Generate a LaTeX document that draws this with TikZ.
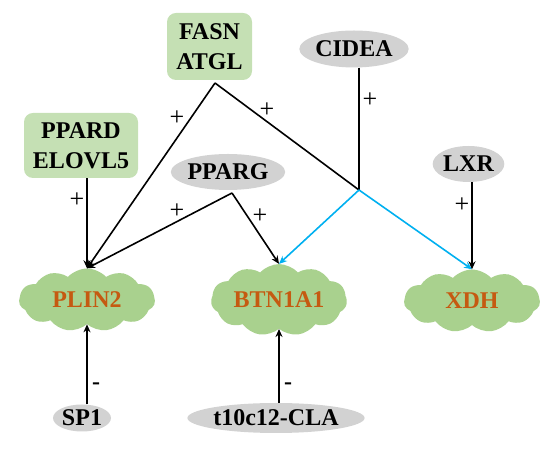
\documentclass[tikz,border=0pt]{standalone}
\usepackage{fontspec}
\setmainfont{Liberation Serif}
\usetikzlibrary{shapes.geometric,shapes.symbols,arrows.meta}

\definecolor{boxgreen}{RGB}{197,224,180}
\definecolor{cloudgreen}{RGB}{169,209,142}
\definecolor{genegrey}{RGB}{210,210,210}
\definecolor{geneorange}{RGB}{197,90,17}
\definecolor{linkblue}{RGB}{0,176,240}

\tikzset{
    factorbox/.style={rectangle, rounded corners=9pt, fill=boxgreen, align=center,
        inner sep=0pt, font=\fontsize{24}{30}\selectfont\bfseries},
    factoroval/.style={ellipse, fill=genegrey, inner sep=0pt,
        font=\fontsize{24}{28}\selectfont\bfseries},
    genecloud/.style={cloud, cloud puffs=11, cloud puff arc=95, aspect=2.2, fill=cloudgreen,
        inner sep=0pt, minimum width=136pt, minimum height=63pt, text=geneorange,
        font=\fontsize{24}{28}\selectfont\bfseries},
    regarrow/.style={line width=1.6pt, -{Stealth[length=8pt,width=7pt]}},
    regline/.style={line width=1.6pt},
    sign/.style={font=\fontsize{26}{30}\selectfont, inner sep=0pt}
}

\begin{document}
\begin{tikzpicture}[x=1pt,y=1pt]
    \useasboundingbox (0,0) rectangle (551,449);

    % regulators
    \node[factorbox, minimum width=85pt, minimum height=67pt] (fasn) at (209.5,402.5) {FASN\\ATGL};
    \node[factorbox, minimum width=114pt, minimum height=65pt] (ppard) at (81,303.5) {PPARD\\ELOVL5};
    \node[factoroval, minimum width=96pt, minimum height=37pt] (cidea) at (354,400) {CIDEA};
    \node[factoroval, minimum width=101pt, minimum height=36pt] (pparg) at (228,277) {PPARG};
    \node[factoroval, minimum width=71pt, minimum height=36pt] (lxr) at (468.5,285) {LXR};
    \node[factoroval, minimum width=58pt, minimum height=27pt] (sp1) at (82,31) {SP1};
    \node[factoroval, minimum width=153pt, minimum height=30pt] (cla) at (276,31) {t10c12-CLA};

    % target genes
    \node[genecloud] (plin2) at (87,149) {PLIN2};
    \node[genecloud] (btn) at (279,149) {BTN1A1};
    \node[genecloud] (xdh) at (472,148) {XDH};

    \coordinate (fasntip) at (215,366);
    \coordinate (ppargtip) at (232,256);
    \coordinate (hub) at (359,259);

    \draw [regarrow] (ppard.south -| plin2.north) -- (plin2.north);
    \draw [regarrow] (fasntip) -- (plin2.north);
    \draw [regline] (fasntip) -- (hub);
    \draw [regarrow] (ppargtip) -- (plin2.north);
    \draw [regarrow] (ppargtip) -- (btn.north);
    \draw [regline] (cidea.south -| hub) -- (hub);
    \draw [regarrow, linkblue] (hub) -- (btn.north);
    \draw [regarrow, linkblue] (hub) -- (xdh.north);
    \draw [regarrow] (lxr.south -| xdh.north) -- (xdh.north);
    \draw [regarrow] (sp1.north -| plin2.south) -- (plin2.south);
    \draw [regarrow] (cla.north -| btn.south) -- (btn.south);

    % signs
    \node[sign] (s1) at (77,249) {+};
    \node[sign] (s2) at (177,331) {+};
    \node[sign] (s3) at (267,339) {+};
    \node[sign] (s4) at (370,349) {+};
    \node[sign] (s5) at (177,238) {+};
    \node[sign] (s6) at (260,233) {+};
    \node[sign] (s7) at (462,244) {+};
    \node[sign, font=\fontsize{24}{30}\selectfont\bfseries] (s8) at (96,63) {-};
    \node[sign, font=\fontsize{24}{30}\selectfont\bfseries] (s9) at (288,63) {-};

\end{tikzpicture}
\end{document}
